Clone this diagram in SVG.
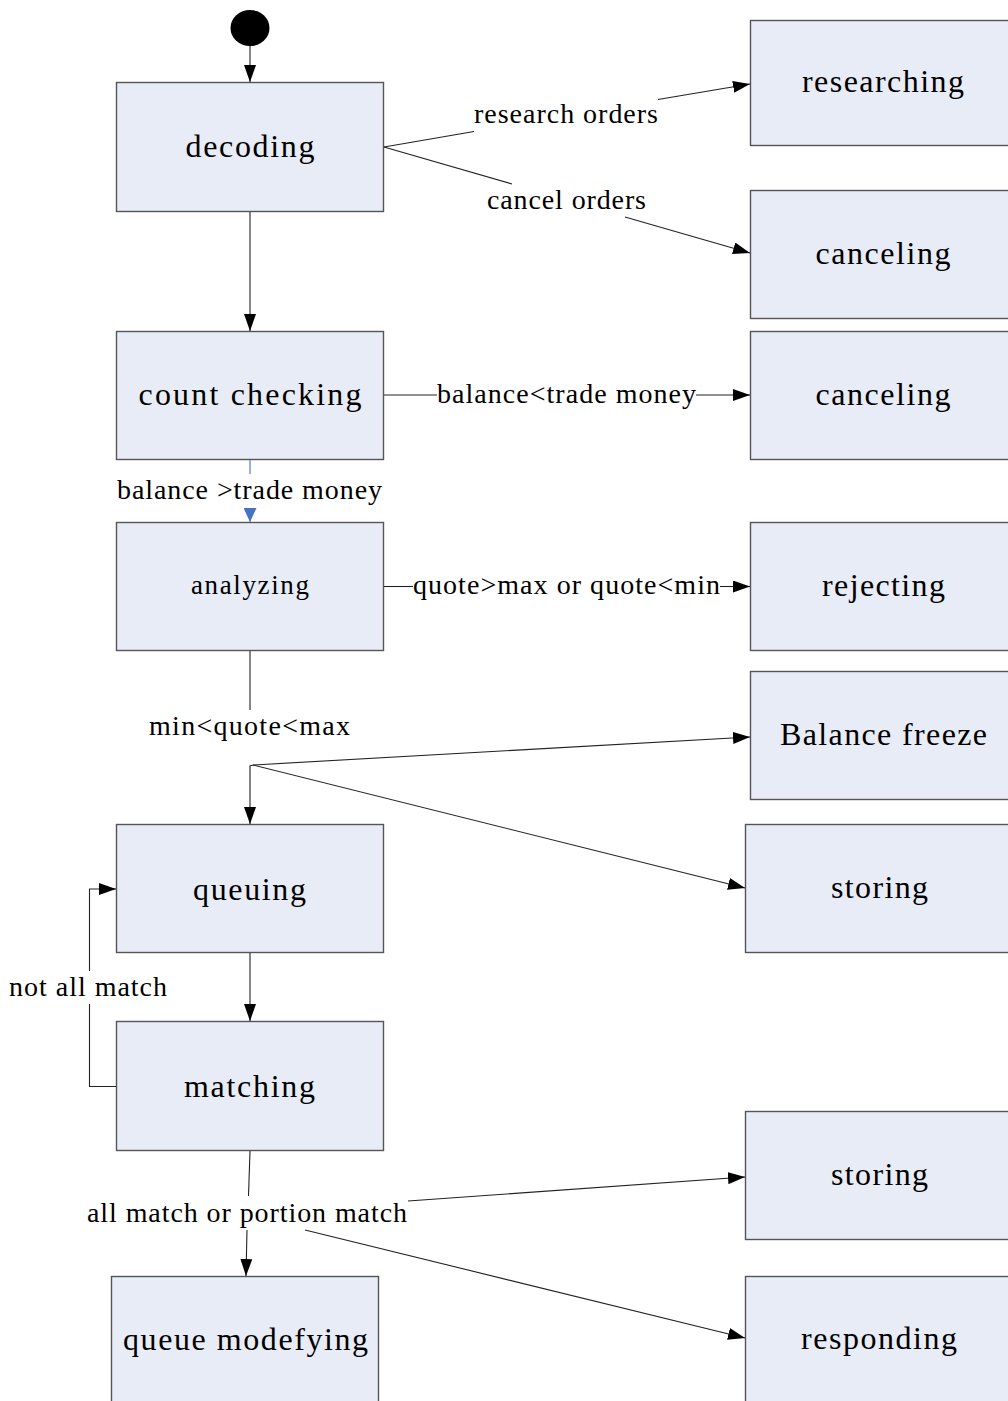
<svg xmlns="http://www.w3.org/2000/svg" width="1008" height="1401" viewBox="0 0 1008 1401">
<style>
.box{fill:#e8ecf7;stroke:#555;stroke-width:1.4}
.node{font-family:"Liberation Serif","Times New Roman",serif;font-size:32px;fill:#000;text-anchor:middle}
.small{font-size:27px}
.lbl{font-family:"Liberation Serif","Times New Roman",serif;font-size:28px;fill:#000;text-anchor:middle}
.ln{fill:none;stroke:#222;stroke-width:1.1}
.arr{marker-end:url(#ah)}
.blue{fill:none;stroke:#4472c4;stroke-width:1.1}
</style>
<defs>
<marker id="ah" markerUnits="userSpaceOnUse" markerWidth="17" markerHeight="12" refX="17" refY="6" orient="auto">
<path d="M0,0 L17,6 L0,12 Z" fill="#000"/>
</marker>
<marker id="ahb" markerUnits="userSpaceOnUse" markerWidth="14" markerHeight="13" refX="14" refY="6.5" orient="auto">
<path d="M0,0 L14,6.5 L0,13 Z" fill="#4472c4"/>
</marker>
</defs>
<rect width="1008" height="1401" fill="#fff"/>

<g id="start"><ellipse cx="250" cy="28" rx="19.5" ry="18" fill="#000"/></g>

<g id="decoding"><rect class="box" x="116.5" y="82.5" width="267" height="129"/><text class="node" x="250" y="157" textLength="129" lengthAdjust="spacing">decoding</text></g>
<g id="researching"><rect class="box" x="750.5" y="20.5" width="270" height="125"/><text class="node" x="883" y="92" textLength="162" lengthAdjust="spacing">researching</text></g>
<g id="canceling1"><rect class="box" x="750.5" y="190.5" width="270" height="128"/><text class="node" x="883" y="264" textLength="135" lengthAdjust="spacing">canceling</text></g>
<g id="countchecking"><rect class="box" x="116.5" y="331.5" width="267" height="128"/><text class="node" x="250" y="405" textLength="223" lengthAdjust="spacing">count checking</text></g>
<g id="canceling2"><rect class="box" x="750.5" y="331.5" width="270" height="128"/><text class="node" x="883" y="405" textLength="135" lengthAdjust="spacing">canceling</text></g>
<g id="analyzing"><rect class="box" x="116.5" y="522.5" width="267" height="128"/><text class="node small" x="250" y="594" textLength="118" lengthAdjust="spacing">analyzing</text></g>
<g id="rejecting"><rect class="box" x="750.5" y="522.5" width="270" height="128"/><text class="node" x="883.5" y="596" textLength="123" lengthAdjust="spacing">rejecting</text></g>
<g id="balancefreeze"><rect class="box" x="750.5" y="671.5" width="270" height="128"/><text class="node" x="883.5" y="745" textLength="207" lengthAdjust="spacing">Balance freeze</text></g>
<g id="queuing"><rect class="box" x="116.5" y="824.5" width="267" height="128"/><text class="node" x="249.5" y="900" textLength="113" lengthAdjust="spacing">queuing</text></g>
<g id="storing1"><rect class="box" x="745.5" y="824.5" width="275" height="128"/><text class="node" x="879.5" y="898" textLength="97" lengthAdjust="spacing">storing</text></g>
<g id="matching"><rect class="box" x="116.5" y="1021.5" width="267" height="129"/><text class="node" x="249.5" y="1097" textLength="131" lengthAdjust="spacing">matching</text></g>
<g id="storing2"><rect class="box" x="745.5" y="1111.5" width="275" height="128"/><text class="node" x="879.5" y="1185" textLength="97" lengthAdjust="spacing">storing</text></g>
<g id="queuemodefying"><rect class="box" x="111.5" y="1276.5" width="267" height="140"/><text class="node" x="245.5" y="1350" textLength="245" lengthAdjust="spacing">queue modefying</text></g>
<g id="responding"><rect class="box" x="745.5" y="1276.5" width="275" height="140"/><text class="node" x="879" y="1349" textLength="156" lengthAdjust="spacing">responding</text></g>

<g id="connectors">
<line class="ln arr" x1="250" y1="46" x2="250" y2="82"/>
<line class="ln" x1="384" y1="147" x2="474" y2="131.5"/>
<line class="ln arr" x1="658" y1="99.5" x2="750" y2="84"/>
<line class="ln" x1="384" y1="147" x2="512" y2="184"/>
<line class="ln arr" x1="625" y1="217" x2="750" y2="253"/>
<line class="ln arr" x1="250" y1="212" x2="250" y2="331"/>
<line class="ln" x1="384" y1="395" x2="437" y2="395"/>
<line class="ln arr" x1="696" y1="395" x2="750" y2="395"/>
<line class="blue" x1="250" y1="460" x2="250" y2="474"/>
<line class="blue" x1="250" y1="508" x2="250" y2="522" marker-end="url(#ahb)"/>
<line class="ln" x1="384" y1="586.5" x2="413" y2="586.5"/>
<line class="ln arr" x1="720" y1="586.5" x2="750" y2="586.5"/>
<line class="ln" x1="250" y1="651" x2="250" y2="710"/>
<line class="ln arr" x1="253" y1="765" x2="750" y2="737"/>
<line class="ln arr" x1="253" y1="765" x2="745" y2="888"/>
<polyline class="ln arr" points="253,765 250,766 250,824"/>
<line class="ln arr" x1="250" y1="953" x2="250" y2="1021"/>
<polyline class="ln" points="116,1086.5 89.5,1086.5 89.5,1004"/>
<polyline class="ln arr" points="89.5,971 89.5,889 116,889"/>
<line class="ln" x1="250" y1="1151" x2="248.5" y2="1196"/>
<line class="ln arr" x1="247" y1="1230" x2="246" y2="1276"/>
<line class="ln arr" x1="408" y1="1201" x2="745" y2="1177"/>
<line class="ln arr" x1="305" y1="1230" x2="745" y2="1338"/>
</g>

<g id="labels">
<text class="lbl" x="566" y="123" textLength="184" lengthAdjust="spacing">research orders</text>
<text class="lbl" x="566.5" y="209" textLength="159" lengthAdjust="spacing">cancel orders</text>
<text class="lbl" x="566.5" y="403" textLength="259" lengthAdjust="spacing">balance&lt;trade money</text>
<text class="lbl" x="249.5" y="499" textLength="265" lengthAdjust="spacing">balance &gt;trade money</text>
<text class="lbl" x="566.5" y="594" textLength="307" lengthAdjust="spacing">quote&gt;max or quote&lt;min</text>
<text class="lbl" x="249.5" y="735" textLength="201" lengthAdjust="spacing">min&lt;quote&lt;max</text>
<text class="lbl" x="88" y="996" textLength="158" lengthAdjust="spacing">not all match</text>
<text class="lbl" x="247" y="1222" textLength="320" lengthAdjust="spacing">all match or portion match</text>
</g>
</svg>
